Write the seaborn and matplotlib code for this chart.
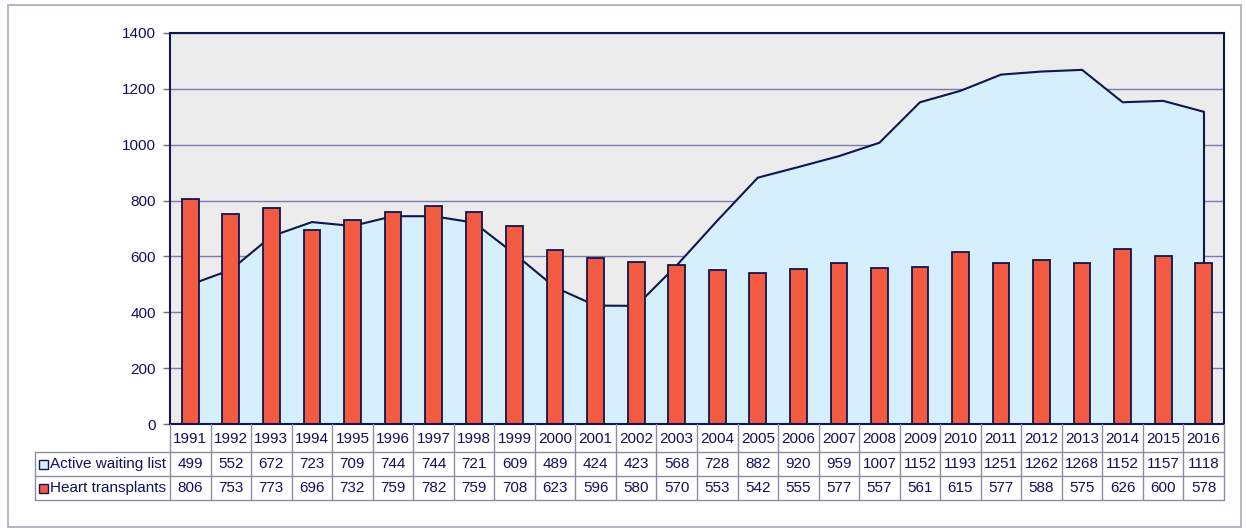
import matplotlib
matplotlib.use("Agg")
import matplotlib.pyplot as plt
import seaborn as sns
import pandas as pd
import numpy as np
from matplotlib.patches import Rectangle

years = [str(y) for y in range(1991, 2017)]
waiting_list = [499, 552, 672, 723, 709, 744, 744, 721, 609, 489, 424, 423, 568,
                728, 882, 920, 959, 1007, 1152, 1193, 1251, 1262, 1268, 1152, 1157, 1118]
transplants = [806, 753, 773, 696, 732, 759, 782, 759, 708, 623, 596, 580, 570,
               553, 542, 555, 577, 557, 561, 615, 577, 588, 575, 626, 600, 578]
row_labels = ["Active waiting list", "Heart transplants"]
y_ticks = [0, 200, 400, 600, 800, 1000, 1200, 1400]

sns.set_theme(style="white")
plt.rcParams['font.family'] = ['Liberation Sans', 'DejaVu Sans']

NAVY = "#0f1650"
TXT = "#101060"
BAR = "#f25a42"
AREA = "#d5effc"
BG = "#ececec"
GRID = "#7a7ab0"
TBL = "#8c8ca4"
FS = 11

W, H = 1246, 531
fig = plt.figure(figsize=(W / 100, H / 100), dpi=100)

L, R, T, B = 170, 1224, 33, 424
ax = fig.add_axes([L / W, 1 - B / H, (R - L) / W, (B - T) / H])
ax.set_facecolor(BG)

df = pd.DataFrame({"year": years, "waiting": waiting_list, "transplants": transplants})
x = np.arange(len(years))

ax.fill_between(x, 0, df["waiting"], facecolor=AREA, edgecolor="none", zorder=1)
ax.plot(x, df["waiting"], color=NAVY, lw=1.5, zorder=2)
ax.plot([x[-1], x[-1]], [0, waiting_list[-1]], color=NAVY, lw=1.5, zorder=2)

sns.barplot(data=df, x="year", y="transplants", color=BAR, width=0.41,
            edgecolor=NAVY, linewidth=1.3, saturation=1, ax=ax, zorder=3)
for p in ax.patches:
    p.set_facecolor(BAR)

ax.set_xlim(-0.5, len(years) - 0.5)
ax.set_ylim(0, 1400)
ax.set_yticks(y_ticks)
ax.set_yticklabels([str(v) for v in y_ticks], color=TXT, fontsize=FS)
ax.set_xticks([])
ax.set_xlabel("")
ax.set_ylabel("")
ax.yaxis.grid(True, color=GRID, lw=1)
ax.set_axisbelow(True)
ax.tick_params(axis="y", left=True, length=5, width=1, color="#707070", pad=5)
for s in ax.spines.values():
    s.set_color(NAVY)
    s.set_linewidth(1.5)
    s.set_zorder(5)

# data table below
tax = fig.add_axes([0, 0, 1, 1], facecolor="none")
tax.set_xlim(0, W)
tax.set_ylim(H, 0)
tax.axis("off")

n = len(years)
cw = (R - L) / n
edges = [L + i * cw for i in range(n + 1)]
y0, y1, y2, y3 = 424, 452, 476, 500
x0 = 35

for e in edges:
    tax.plot([e, e], [y0, y3], color=TBL, lw=1)
tax.plot([x0, x0], [y1, y3], color=TBL, lw=1)
for yy in (y1, y2, y3):
    tax.plot([x0, R], [yy, yy], color=TBL, lw=1)

for i, yr in enumerate(years):
    cx = edges[i] + cw / 2
    tax.text(cx, (y0 + y1) / 2 + 1, yr, ha="center", va="center", fontsize=FS, color=TXT)
    tax.text(cx, (y1 + y2) / 2, str(waiting_list[i]), ha="center", va="center", fontsize=FS, color=TXT)
    tax.text(cx, (y2 + y3) / 2, str(transplants[i]), ha="center", va="center", fontsize=FS, color=TXT)

for yc, lab, fc in [((y1 + y2) / 2, row_labels[0], AREA), ((y2 + y3) / 2, row_labels[1], BAR)]:
    tax.add_patch(Rectangle((39, yc - 4.5), 9, 9, facecolor=fc, edgecolor=NAVY, lw=1))
    tax.text(50, yc, lab, ha="left", va="center", fontsize=FS, color=TXT)

# outer frame
tax.add_patch(Rectangle((8, 5), 1233, 522, facecolor="none", edgecolor="#a8a8b8", lw=1.2))

fig.savefig("out.png", dpi=100)
